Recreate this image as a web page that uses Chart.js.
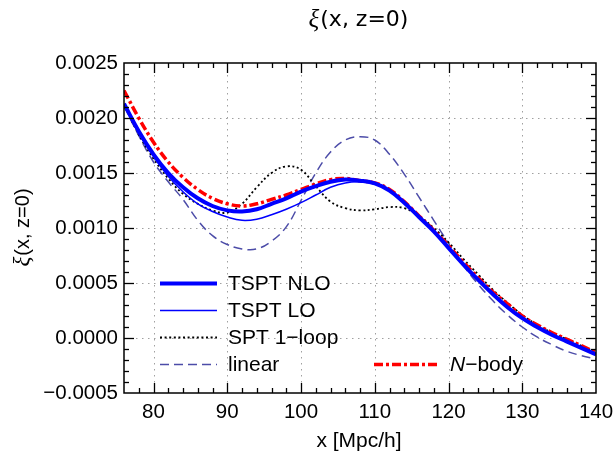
<!DOCTYPE html>
<html><head><meta charset="utf-8">
<script src="https://cdn.jsdelivr.net/npm/chart.js@4.4.1/dist/chart.umd.min.js"></script>
<style>html,body{margin:0;padding:0;background:#fff;}canvas{display:block;}</style>
</head><body>
<canvas id="c" width="614" height="458"></canvas>
<script>
// ---- data ----
const xValues = [76,78,80,82,84,86,88,90,92,94,96,98,100,102,104,106,108,110,112,114,116,118,120,122,124,126,128,130,132,134,136,138,140];
const tsptNLO = [0.00213,0.00188,0.00167,0.00150,0.00137,0.00127,0.00120,0.00116,0.00115,0.00117,0.00122,0.00127,0.00133,0.00138,0.00142,0.00144,0.00143,0.001405,0.00134,0.00123,0.00110,0.00097,0.00082,0.00067,0.00053,0.00040,0.00028,0.00018,0.00010,0.00003,-0.00003,-0.00009,-0.00015];
const tsptLO  = [0.00212,0.00186,0.00165,0.00147,0.00133,0.00122,0.00115,0.00110,0.00107,0.00108,0.00112,0.00117,0.00123,0.00130,0.00137,0.00141,0.00142,0.00140,0.00134,0.00123,0.00110,0.00097,0.00082,0.00067,0.00053,0.00040,0.00028,0.00018,0.00010,0.00003,-0.00003,-0.00009,-0.00015];
const spt1loop = [0.00212,0.00185,0.00163,0.00145,0.00131,0.00122,0.00116,0.00114,0.00122,0.00137,0.00150,0.00156,0.00153,0.00138,0.00124,0.00118,0.00116,0.00117,0.00119,0.00118,0.00111,0.00100,0.00087,0.00072,0.00058,0.00044,0.00032,0.00021,0.00012,0.00005,-0.00001,-0.00007,-0.00013];
const linearTh = [0.00211,0.00184,0.00160,0.00142,0.00126,0.00107,0.00093,0.00085,0.00081,0.00081,0.00088,0.00101,0.00125,0.00150,0.00169,0.00180,0.00183,0.00180,0.00167,0.00149,0.00128,0.00107,0.00086,0.00066,0.00049,0.00034,0.00021,0.00010,0.00001,-0.00006,-0.00012,-0.00016,-0.00019];
const nBody   = [0.00225,0.00200,0.00178,0.00160,0.00146,0.00135,0.00127,0.00122,0.00120,0.00122,0.00126,0.00130,0.00135,0.00140,0.00144,0.00145,0.00143,0.00141,0.00135,0.00124,0.00111,0.00098,0.00084,0.00069,0.00055,0.00042,0.00031,0.00020,0.00012,0.00005,-0.00001,-0.00007,-0.00013];
const xTicks = [80,90,100,110,120,130,140];
const yTicks = [-0.0005,0,0.0005,0.001,0.0015,0.002,0.0025];
const seriesNames = ['TSPT NLO','TSPT LO','SPT 1\u2212loop','linear','N\u2212body'];
const titleRest = '(x, z=0)';
const xTitle = 'x [Mpc/h]';

const pts = arr => xValues.map((x,i)=>({x:x,y:arr[i]}));
const SANS = '"Liberation Sans", Arial, Helvetica, sans-serif';

const styles = [
  {color:'#0000ff', width:4, dash:[]},
  {color:'#0000ff', width:1.5, dash:[]},
  {color:'#000000', width:1.8, dash:[2,2.6]},
  {color:'#4c4ca8', width:1.5, dash:[9,5]},
  {color:'#ff0000', width:3.5, dash:[9,3,3,3]}
];
const seriesData = [tsptNLO, tsptLO, spt1loop, linearTh, nBody];

function line(ctx,x1,y1,x2,y2){ctx.beginPath();ctx.moveTo(x1,y1);ctx.lineTo(x2,y2);ctx.stroke();}

const framePlugin = {
  id:'frame',
  beforeDatasetsDraw(chart){
    const ctx=chart.ctx, a=chart.chartArea, xs=chart.scales.x, ys=chart.scales.y;
    ctx.save();
    ctx.strokeStyle='#a0a0a0'; ctx.lineWidth=1; ctx.setLineDash([1.5,4.5]);
    xTicks.forEach(v=>{ if(v<=xs.min||v>=xs.max) return; const p=Math.round(xs.getPixelForValue(v))+0.5; line(ctx,p,a.top,p,a.bottom); });
    yTicks.forEach(v=>{ if(v<=ys.min+1e-9||v>=ys.max-1e-9) return; const p=Math.round(ys.getPixelForValue(v))+0.5; line(ctx,a.left,p,a.right,p); });
    ctx.restore();
  },
  afterDatasetsDraw(chart){
    const ctx=chart.ctx, a=chart.chartArea, xs=chart.scales.x, ys=chart.scales.y;
    ctx.save();
    ctx.setLineDash([]); ctx.strokeStyle='#000'; ctx.lineWidth=1.5;
    ctx.strokeRect(a.left,a.top,a.right-a.left,a.bottom-a.top);
    ctx.lineWidth=1.3;
    for(let v=78; v<140; v+=2){
      const len = (v%10===0)?10:5;
      const p=Math.round(xs.getPixelForValue(v))+0.5;
      line(ctx,p,a.bottom,p,a.bottom-len);
      line(ctx,p,a.top,p,a.top+len);
    }
    for(let i=-4; i<25; i++){
      const len = (i%5===0)?10:5;
      const p=Math.round(ys.getPixelForValue(i*0.0001))+0.5;
      line(ctx,a.left,p,a.left+len,p);
      line(ctx,a.right,p,a.right-len,p);
    }
    // legend
    const rows=[283.5,310.5,337.5,364.5];
    ctx.font='21px '+SANS; ctx.fillStyle='#000'; ctx.textBaseline='middle'; ctx.textAlign='left';
    for(let k=0;k<4;k++){
      const s=styles[k];
      ctx.strokeStyle=s.color; ctx.lineWidth=s.width; ctx.setLineDash(s.dash);
      line(ctx,160,rows[k],217,rows[k]);
      ctx.setLineDash([]);
      ctx.fillText(seriesNames[k],228,rows[k]+1);
    }
    const s=styles[4];
    ctx.strokeStyle=s.color; ctx.lineWidth=s.width; ctx.setLineDash(s.dash);
    line(ctx,374,rows[3],438,rows[3]);
    ctx.setLineDash([]);
    ctx.font='italic 21px '+SANS;
    ctx.fillText('N',450,rows[3]+1);
    const wN=ctx.measureText('N').width;
    ctx.font='21px '+SANS;
    ctx.fillText(seriesNames[4].slice(1),450+wN,rows[3]+1);

    // titles
    const drawXi=(cx,cy,size,restFont)=>{
      const xiFont='italic '+(size+3)+'px "Liberation Serif", "DejaVu Serif", serif';
      ctx.font=xiFont;
      const w1=ctx.measureText('\u03BE').width;
      ctx.font=restFont;
      const w2=ctx.measureText(titleRest).width;
      const x0=cx-(w1+w2)/2;
      ctx.font=xiFont;
      ctx.fillText('\u03BE',x0,cy);
      ctx.font=restFont;
      ctx.fillText(titleRest,x0+w1+1,cy);
    };
    ctx.textAlign='left'; ctx.textBaseline='middle';
    drawXi(358,20,22,'22px "DejaVu Sans", sans-serif');
    ctx.save();
    ctx.translate(23,228); ctx.rotate(-Math.PI/2);
    drawXi(0,0,20,'20px '+SANS);
    ctx.restore();
    ctx.font='21px '+SANS; ctx.textAlign='center';
    ctx.fillText(xTitle,359,441);
    ctx.restore();
  }
};

const datasets = seriesData.map((arr,k)=>({
  label: seriesNames[k],
  data: pts(arr),
  borderColor: styles[k].color,
  borderWidth: styles[k].width,
  borderDash: styles[k].dash,
  pointRadius: 0,
  fill: false,
  tension: 0.4
}));
// draw order: blue curves on top
datasets[0].order=0; datasets[1].order=1; datasets[4].order=2; datasets[2].order=3; datasets[3].order=4;

new Chart(document.getElementById('c'), {
  type:'line',
  data:{datasets:datasets},
  plugins:[framePlugin],
  options:{
    responsive:false, animation:false, devicePixelRatio:1,
    layout:{padding:{top:63,right:18,left:0,bottom:0}},
    plugins:{legend:{display:false}, title:{display:false}, tooltip:{enabled:false}},
    scales:{
      x:{type:'linear', min:76, max:140,
         afterBuildTicks:s=>{s.ticks=xTicks.map(v=>({value:v}));},
         afterFit:s=>{s.height=65; s.paddingLeft=0; s.paddingRight=0;},
         grid:{display:false, drawTicks:false}, border:{display:false},
         ticks:{color:'#000', font:{family:SANS,size:20.5}, padding:7, maxRotation:0, autoSkip:false}},
      y:{type:'linear', min:-0.0005, max:0.0025,
         afterBuildTicks:s=>{s.ticks=yTicks.map(v=>({value:v}));},
         afterFit:s=>{s.width=124; s.paddingTop=0; s.paddingBottom=0;},
         grid:{display:false, drawTicks:false}, border:{display:false},
         ticks:{color:'#000', font:{family:SANS,size:20.5}, padding:6, autoSkip:false,
           callback:v=>{const t=Math.abs(v).toFixed(4); return (v<-1e-12?'\u2212':'')+t;}}}
    }
  }
});
</script>
</body></html>
